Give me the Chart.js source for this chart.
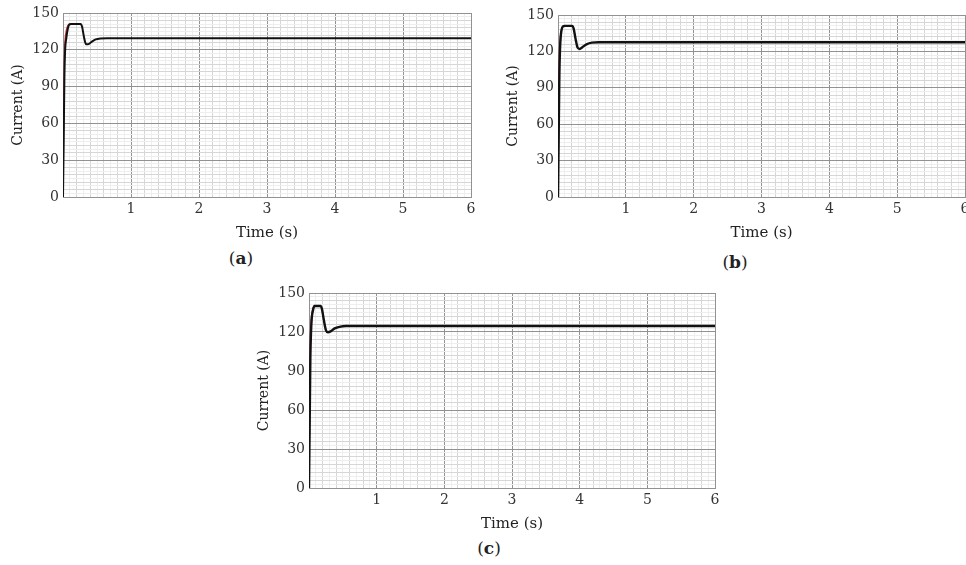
<!DOCTYPE html>
<html>
<head>
<meta charset="utf-8">
<script src="https://cdn.jsdelivr.net/npm/chart.js@4.4.0/dist/chart.umd.min.js"></script>
<style>
  html, body { margin: 0; padding: 0; background: #fff; width: 966px; height: 565px; overflow: hidden; position: relative; }
  .wrap { position: absolute; }
  .cap { position: absolute; width: 100px; text-align: center; font-family: 'DejaVu Serif', serif; font-size: 17px; line-height: 20px; color: #222; }
</style>
</head>
<body>
<div class="wrap" style="left:0px;top:0px;width:490px;height:242px;"><canvas id="ca" width="490" height="242"></canvas></div>
<div class="wrap" style="left:495px;top:0px;width:490px;height:242px;"><canvas id="cb" width="490" height="242"></canvas></div>
<div class="wrap" style="left:246px;top:280px;width:490px;height:253px;"><canvas id="cc" width="490" height="253"></canvas></div>
<div class="cap" style="left:191px;top:248px;">(<b>a</b>)</div>
<div class="cap" style="left:685px;top:252px;">(<b>b</b>)</div>
<div class="cap" style="left:439px;top:538px;">(<b>c</b>)</div>
<script>
// ---- data ----
const xTickLabels = ['1', '2', '3', '4', '5', '6'];
const yTickLabels = ['0', '30', '60', '90', '120', '150'];

const timeA    = [0, 0.01, 0.02, 0.03, 0.05, 0.07, 0.09, 0.12, 0.26, 0.28, 0.31, 0.34, 0.37, 0.42, 0.48, 0.55, 0.65, 6];
const currentA = [0, 45, 95, 118, 130, 137, 140.5, 141, 141, 139, 130, 124.5, 124.5, 126.5, 128.5, 129.3, 129.5, 129.5];
const refTimeA    = [0, 0.01, 0.02, 0.03, 0.05, 0.07, 0.1, 0.12];
const refCurrentA = [0, 70, 112, 127, 136, 139.5, 141, 141];

const timeB    = [0, 0.01, 0.02, 0.03, 0.04, 0.05, 0.07, 0.1, 0.21, 0.23, 0.26, 0.29, 0.32, 0.36, 0.42, 0.5, 0.6, 6];
const currentB = [0, 50, 100, 122, 132, 137, 140.5, 141, 141, 139, 130, 123, 122, 123.5, 125.8, 127.2, 127.5, 127.5];
const refTimeB    = [0, 0.01, 0.02, 0.03, 0.05, 0.07, 0.1];
const refCurrentB = [0, 72, 115, 129, 137, 140.5, 141];

const timeC    = [0, 0.01, 0.02, 0.03, 0.04, 0.06, 0.08, 0.17, 0.19, 0.22, 0.25, 0.28, 0.32, 0.38, 0.45, 0.55, 6];
const currentC = [0, 50, 100, 120, 130, 137, 140, 140, 138, 129, 121.5, 119.8, 120.5, 122.8, 124, 124.6, 124.6];
const refTimeC    = [0, 0.01, 0.02, 0.03, 0.05, 0.07, 0.09];
const refCurrentC = [0, 72, 114, 128, 136.5, 139.5, 140];

const FONT = "'DejaVu Serif', serif";

function gridColorX(ctx) {
  const k = Math.round(ctx.tick.value * 10);
  if (k % 10 === 0) return '#929292';
  if (k % 2 === 0) return '#d6d6d6';
  return '#eeeeee';
}
function gridColorY(ctx) {
  const k = Math.round(ctx.tick.value / 3);
  if (k % 10 === 0) return '#929292';
  if (k % 2 === 0) return '#d6d6d6';
  return '#eeeeee';
}

function makeChart(id, t, c, rt, rc, padTop, padRight, lw) {
  new Chart(document.getElementById(id), {
    type: 'line',
    data: {
      datasets: [
        {
          data: t.map((x, i) => ({ x: x, y: c[i] })),
          borderColor: '#111',
          borderWidth: lw,
          pointRadius: 0,
          cubicInterpolationMode: 'monotone',
          order: 1
        },
        {
          data: rt.map((x, i) => ({ x: x, y: rc[i] })),
          borderColor: '#c8323c',
          borderWidth: 1.4,
          pointRadius: 0,
          cubicInterpolationMode: 'monotone',
          order: 2
        }
      ]
    },
    options: {
      responsive: false,
      animation: false,
      events: [],
      layout: { autoPadding: false, padding: { left: 0, top: padTop, right: padRight, bottom: 0 } },
      plugins: { legend: { display: false }, tooltip: { enabled: false } },
      scales: {
        x: {
          type: 'linear', min: 0, max: 6,
          afterFit: s => { s.height = 45; },
          ticks: {
            stepSize: 0.1, autoSkip: false, maxRotation: 0, padding: 4,
            color: '#333', font: { family: FONT, size: 14 },
            callback: v => {
              const k = Math.round(v * 10);
              if (k % 10 !== 0 || k === 0) return '';
              return xTickLabels[k / 10 - 1];
            }
          },
          grid: { color: gridColorX, lineWidth: 1, drawTicks: false },
          border: { color: '#929292', width: 1 },
          title: { display: true, text: 'Time (s)', color: '#222', font: { family: FONT, size: 15 }, padding: { top: 0, bottom: 0 } }
        },
        y: {
          type: 'linear', min: 0, max: 150,
          afterFit: s => { s.width = 63; },
          ticks: {
            stepSize: 3, autoSkip: false, padding: 4,
            color: '#333', font: { family: FONT, size: 14 },
            callback: v => {
              const k = Math.round(v / 3);
              if (k % 10 !== 0) return '';
              return yTickLabels[k / 10];
            }
          },
          grid: { color: gridColorY, lineWidth: 1, drawTicks: false },
          border: { color: '#929292', width: 1 },
          title: { display: true, text: 'Current (A)', color: '#222', font: { family: FONT, size: 14 }, padding: { top: 10, bottom: 0 } }
        }
      }
    }
  });
}

makeChart('ca', timeA, currentA, refTimeA, refCurrentA, 13, 19, 2);
makeChart('cb', timeB, currentB, refTimeB, refCurrentB, 15, 20, 2.4);
makeChart('cc', timeC, currentC, refTimeC, refCurrentC, 13, 21, 2.4);
</script>
</body>
</html>
